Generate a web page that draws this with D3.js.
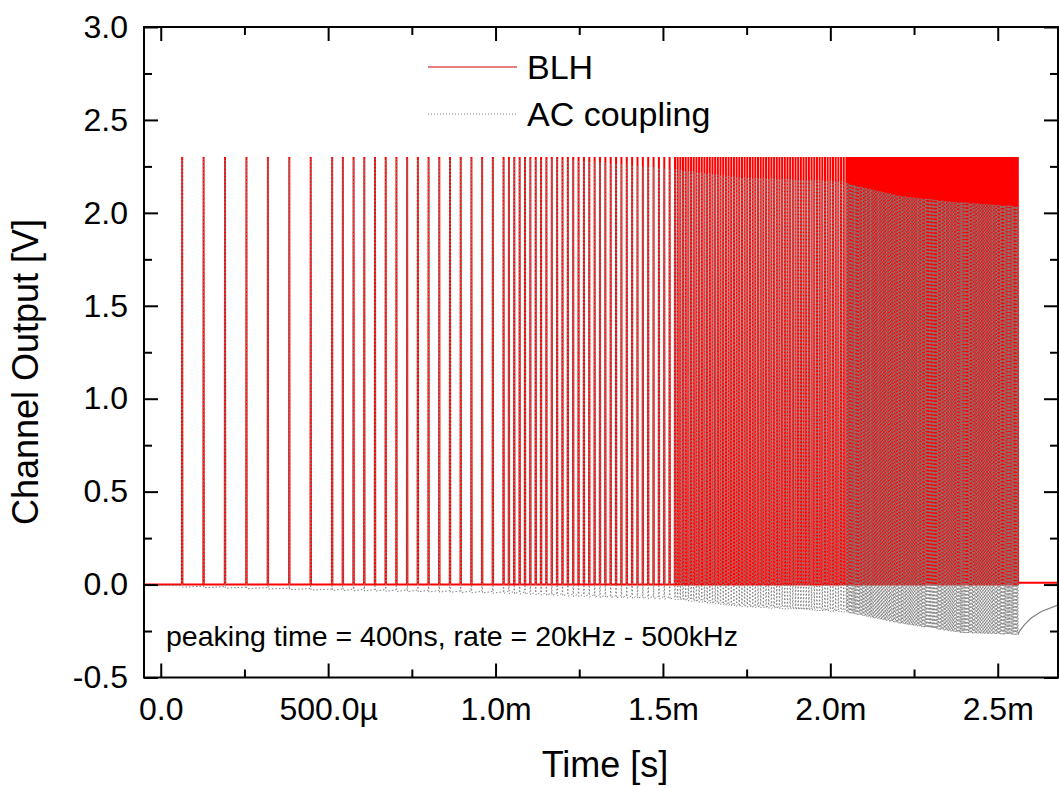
<!DOCTYPE html>
<html>
<head>
<meta charset="utf-8">
<script src="https://cdn.jsdelivr.net/npm/d3@7"></script>
<style>
  html, body { margin: 0; padding: 0; background: #fff; }
  svg { display: block; font-family: "Liberation Sans", Arial, sans-serif; }
</style>
</head>
<body>
<svg id="chart" width="1059" height="788"></svg>
<script>
// ---------------- data (time in ms, voltage in V) ----------------
// pulse train: five bursts of equal length, rate doubling each burst
const segStartMs  = [0, 0.512, 1.024, 1.536, 2.048];
const segPeriodMs = [0.064, 0.032, 0.016, 0.008, 0.004];
const segPulses   = [8, 16, 32, 64, 128];
const pulseWidthMs = 0.0015;

// BLH channel
const blhBase = 0.0;
const blhPeak = 2.30;
const blhAfter = 0.01;

// AC coupling channel: peak envelope
const acPeakMs = [0.0, 1.20, 1.45, 1.55, 1.73, 2.03, 2.09, 2.21, 2.36, 2.56];
const acPeakV  = [2.29, 2.29, 2.25, 2.23, 2.19, 2.17, 2.14, 2.09, 2.06, 2.035];
// AC coupling: level right after each pulse (undershoot envelope)
const acLowMs = [-0.05, 0.06, 0.51, 0.86, 1.02, 1.31, 1.53, 1.73, 2.05, 2.21, 2.39, 2.56];
const acLowV  = [-0.003, -0.014, -0.032, -0.042, -0.048, -0.07, -0.08, -0.12, -0.15, -0.21, -0.26, -0.27];
// recovery between pulses, per burst
const acRecover = [0.008, 0.01, 0.015, 0.02, 0.02];
// recovery tail after the last pulse
const acTailMs = [2.565, 2.58, 2.60, 2.63, 2.68];
const acTailV  = [-0.25, -0.215, -0.18, -0.145, -0.11];

// axes
const xMajor = [0, 0.5, 1.0, 1.5, 2.0, 2.5];
const xLabels = ["0.0", "500.0\u00b5", "1.0m", "1.5m", "2.0m", "2.5m"];
const xMinor = [0.25, 0.75, 1.25, 1.75, 2.25];
const yMajor = [-0.5, 0, 0.5, 1.0, 1.5, 2.0, 2.5, 3.0];
const yLabels = ["-0.5", "0.0", "0.5", "1.0", "1.5", "2.0", "2.5", "3.0"];
const yMinor = [-0.25, 0.25, 0.75, 1.25, 1.75, 2.25, 2.75];
const seriesNames = ["BLH", "AC coupling"];
const note = "peaking time = 400ns, rate = 20kHz - 500kHz";

// ---------------- layout ----------------
const L = 144, R = 1058, T = 27, B = 677.5;
const svg = d3.select("#chart");
const x = d3.scaleLinear().domain([-0.05, 2.68]).range([L, R]);
const y = d3.scaleLinear().domain([-0.5, 3.0]).range([B, T]);

svg.append("defs").append("clipPath").attr("id", "clip")
  .append("rect").attr("x", L).attr("y", T).attr("width", R - L).attr("height", B - T);

// build pulses
const pulses = [];
segStartMs.forEach((s, i) => {
  for (let k = 1; k <= segPulses[i]; k++) pulses.push({ t: s + k * segPeriodMs[i], seg: i });
});
const hw = pulseWidthMs / 2;
const acPeak = d3.scaleLinear().domain(acPeakMs).range(acPeakV).clamp(true);
const acLow = d3.scaleLinear().domain(acLowMs).range(acLowV).clamp(true);

const blhPts = [[-0.05, blhBase]];
pulses.forEach(p => {
  blhPts.push([p.t - hw, blhBase], [p.t, blhPeak], [p.t + hw, blhBase]);
});
const lastT = pulses[pulses.length - 1].t;
blhPts.push([lastT + 0.002, blhAfter], [2.68, blhAfter]);

const acPts = [[-0.05, acLowV[0]]];
pulses.forEach(p => {
  acPts.push([p.t - hw, acLow(p.t) + acRecover[p.seg]], [p.t, acPeak(p.t)], [p.t + hw, acLow(p.t)]);
});
const acTail = acTailMs.map((t, i) => [t, acTailV[i]]);

const line = d3.line().x(d => x(d[0])).y(d => y(d[1]));
const plot = svg.append("g").attr("clip-path", "url(#clip)");
plot.append("path").attr("d", line(blhPts))
  .attr("fill", "none").attr("stroke", "#ff0000").attr("stroke-width", 2);
plot.append("path").attr("d", line(acPts))
  .attr("fill", "none").attr("stroke", "#808080").attr("stroke-width", 1)
  .attr("stroke-dasharray", "1.5,2");
plot.append("path").attr("d", line([acPts[acPts.length - 1]].concat(acTail)))
  .attr("fill", "none").attr("stroke", "#808080").attr("stroke-width", 1.2);

// ---------------- axes ----------------
const tickFont = 32;
function styleAxis(g) {
  g.select(".domain").remove();
  g.selectAll(".tick line").attr("stroke", "#000").attr("stroke-width", 2);
  g.selectAll("text").attr("fill", "#000").style("font-size", tickFont + "px")
    .style("font-family", '"Liberation Sans", Arial, sans-serif');
}
svg.append("g").attr("transform", `translate(0,${B})`)
  .call(d3.axisBottom(x).tickValues(xMajor).tickSize(-14).tickPadding(19.5)
    .tickFormat((d, i) => xLabels[i])).call(styleAxis);
svg.append("g").attr("transform", `translate(0,${B})`)
  .call(d3.axisBottom(x).tickValues(xMinor).tickSize(-8).tickFormat("")).call(styleAxis);
svg.append("g").attr("transform", `translate(0,${T})`)
  .call(d3.axisTop(x).tickValues(xMajor).tickSize(-14).tickFormat("")).call(styleAxis);
svg.append("g").attr("transform", `translate(0,${T})`)
  .call(d3.axisTop(x).tickValues(xMinor).tickSize(-8).tickFormat("")).call(styleAxis);
svg.append("g").attr("transform", `translate(${L},0)`)
  .call(d3.axisLeft(y).tickValues(yMajor).tickSize(-14).tickPadding(16)
    .tickFormat((d, i) => yLabels[i])).call(styleAxis);
svg.append("g").attr("transform", `translate(${L},0)`)
  .call(d3.axisLeft(y).tickValues(yMinor).tickSize(-8).tickFormat("")).call(styleAxis);
svg.append("g").attr("transform", `translate(${R},0)`)
  .call(d3.axisRight(y).tickValues(yMajor).tickSize(-14).tickFormat("")).call(styleAxis);
svg.append("g").attr("transform", `translate(${R},0)`)
  .call(d3.axisRight(y).tickValues(yMinor).tickSize(-8).tickFormat("")).call(styleAxis);

svg.append("rect").attr("x", L).attr("y", T).attr("width", R - L).attr("height", B - T)
  .attr("fill", "none").attr("stroke", "#000").attr("stroke-width", 2);

// axis titles
svg.append("text").attr("x", 605).attr("y", 777).attr("text-anchor", "middle")
  .style("font-size", "36px").text("Time [s]");
svg.append("text").attr("transform", "translate(38,372) rotate(-90)")
  .attr("text-anchor", "middle").style("font-size", "36px").text("Channel Output [V]");

// legend
const lg = svg.append("g");
lg.append("line").attr("x1", 428).attr("x2", 517).attr("y1", 67).attr("y2", 67)
  .attr("stroke", "#cc0000").attr("stroke-width", 1.2);
lg.append("text").attr("x", 527).attr("y", 79).style("font-size", "34px").text(seriesNames[0]);
lg.append("line").attr("x1", 428).attr("x2", 517).attr("y1", 114).attr("y2", 114)
  .attr("stroke", "#808080").attr("stroke-width", 1).attr("stroke-dasharray", "1,2");
lg.append("text").attr("x", 527).attr("y", 126).style("font-size", "34px").text(seriesNames[1]);

// annotation
svg.append("text").attr("x", 166).attr("y", 646).style("font-size", "28.5px").text(note);
</script>
</body>
</html>
